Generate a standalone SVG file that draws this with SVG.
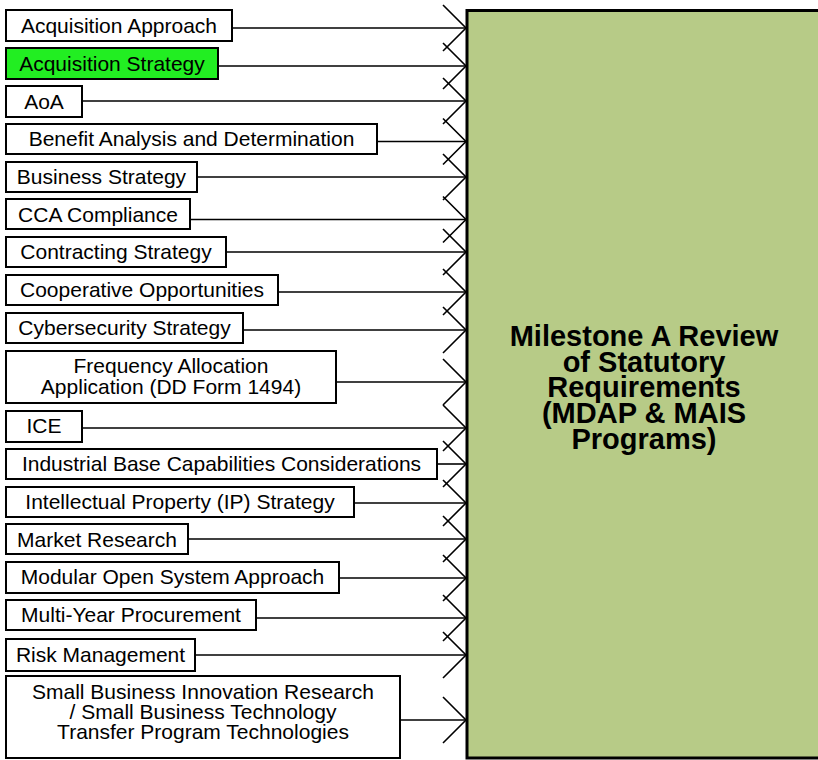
<svg xmlns="http://www.w3.org/2000/svg" width="818" height="760" viewBox="0 0 818 760">
<style>
.n{fill:#ffffff;stroke:#000;stroke-width:2}
.g{fill:#22ee22;stroke:#000;stroke-width:2}
.t{font-family:"Liberation Sans",Arial,sans-serif;font-size:21px;fill:#000;text-anchor:middle}
.c{stroke:#000;stroke-width:1.6;fill:none}
.big{fill:#b7cb87;stroke:#000;stroke-width:3}
.bt{font-family:"Liberation Sans",Arial,sans-serif;font-size:29px;font-weight:bold;fill:#000;text-anchor:middle}
</style>
<defs>
<polyline id="ah" points="-23,-23 0,0 -23,23" style="stroke:#000;stroke-width:1.6;fill:none"/>
</defs>
<g id="target">
<rect class="big" x="467" y="10.5" width="400" height="747.5"/>
<text class="bt"><tspan x="644" y="346">Milestone A Review</tspan><tspan x="644" y="372">of Statutory</tspan><tspan x="644" y="397">Requirements</tspan><tspan x="644" y="423">(MDAP &amp; MAIS</tspan><tspan x="644" y="449">Programs)</tspan></text>
</g>
<g id="connectors">
<line class="c" x1="232" y1="28" x2="466" y2="28"/><use href="#ah" x="466" y="28"/>
<line class="c" x1="218" y1="66" x2="466" y2="66"/><use href="#ah" x="466" y="66"/>
<line class="c" x1="82" y1="101" x2="466" y2="101"/><use href="#ah" x="466" y="101"/>
<line class="c" x1="377" y1="141.5" x2="466" y2="141.5"/><use href="#ah" x="466" y="141.5"/>
<line class="c" x1="197" y1="177" x2="466" y2="177"/><use href="#ah" x="466" y="177"/>
<line class="c" x1="190" y1="219.5" x2="466" y2="219.5"/><use href="#ah" x="466" y="219.5"/>
<line class="c" x1="226" y1="252" x2="466" y2="252"/><use href="#ah" x="466" y="252"/>
<line class="c" x1="278" y1="292" x2="466" y2="292"/><use href="#ah" x="466" y="292"/>
<line class="c" x1="243" y1="330" x2="466" y2="330"/><use href="#ah" x="466" y="330"/>
<line class="c" x1="336" y1="382" x2="466" y2="382"/><use href="#ah" x="466" y="382"/>
<line class="c" x1="82" y1="428" x2="466" y2="428"/><use href="#ah" x="466" y="428"/>
<line class="c" x1="437" y1="464" x2="466" y2="464"/><use href="#ah" x="466" y="464"/>
<line class="c" x1="354" y1="503" x2="466" y2="503"/><use href="#ah" x="466" y="503"/>
<line class="c" x1="188" y1="539" x2="466" y2="539"/><use href="#ah" x="466" y="539"/>
<line class="c" x1="339" y1="578" x2="466" y2="578"/><use href="#ah" x="466" y="578"/>
<line class="c" x1="256" y1="618" x2="466" y2="618"/><use href="#ah" x="466" y="618"/>
<line class="c" x1="195" y1="655" x2="466" y2="655"/><use href="#ah" x="466" y="655"/>
<line class="c" x1="400" y1="720" x2="466" y2="720"/><use href="#ah" x="466" y="720"/>
</g>
<g id="n1"><rect class="n" x="6" y="10" width="226" height="31"/><text class="t" x="119" y="33">Acquisition Approach</text></g>
<g id="n2"><rect class="g" x="6" y="48" width="212" height="31"/><text class="t" x="112" y="71">Acquisition Strategy</text></g>
<g id="n3"><rect class="n" x="6" y="86" width="76" height="31"/><text class="t" x="44" y="109">AoA</text></g>
<g id="n4"><rect class="n" x="6" y="124" width="371" height="30"/><text class="t" x="191.5" y="146">Benefit Analysis and Determination</text></g>
<g id="n5"><rect class="n" x="6" y="162" width="191" height="30"/><text class="t" x="101.5" y="184">Business Strategy</text></g>
<g id="n6"><rect class="n" x="6" y="199" width="184" height="30"/><text class="t" x="98" y="222">CCA Compliance</text></g>
<g id="n7"><rect class="n" x="6" y="237" width="220" height="30"/><text class="t" x="116" y="259">Contracting Strategy</text></g>
<g id="n8"><rect class="n" x="6" y="275" width="272" height="30"/><text class="t" x="142" y="297">Cooperative Opportunities</text></g>
<g id="n9"><rect class="n" x="6" y="313" width="237" height="30"/><text class="t" x="124.5" y="335">Cybersecurity Strategy</text></g>
<g id="n10"><rect class="n" x="6" y="351" width="330" height="52"/><text class="t"><tspan x="171" y="373">Frequency Allocation</tspan><tspan x="171" y="394">Application (DD Form 1494)</tspan></text></g>
<g id="n11"><rect class="n" x="6" y="411" width="76" height="31"/><text class="t" x="44" y="433">ICE</text></g>
<g id="n12"><rect class="n" x="6" y="449" width="431" height="30"/><text class="t" x="221.5" y="471">Industrial Base Capabilities Considerations</text></g>
<g id="n13"><rect class="n" x="6" y="487" width="348" height="30"/><text class="t" x="180" y="509">Intellectual Property (IP) Strategy</text></g>
<g id="n14"><rect class="n" x="6" y="524" width="182" height="30"/><text class="t" x="97" y="547">Market Research</text></g>
<g id="n15"><rect class="n" x="6" y="562" width="333" height="31"/><text class="t" x="172.5" y="584">Modular Open System Approach</text></g>
<g id="n16"><rect class="n" x="6" y="600" width="250" height="30"/><text class="t" x="131" y="622">Multi-Year Procurement</text></g>
<g id="n17"><rect class="n" x="6" y="639" width="189" height="32"/><text class="t" x="100.5" y="662">Risk Management</text></g>
<g id="n18"><rect class="n" x="6" y="676" width="394" height="82"/><text class="t"><tspan x="203" y="699">Small Business Innovation Research</tspan><tspan x="203" y="719">/ Small Business Technology</tspan><tspan x="203" y="739">Transfer Program Technologies</tspan></text></g>
</svg>
